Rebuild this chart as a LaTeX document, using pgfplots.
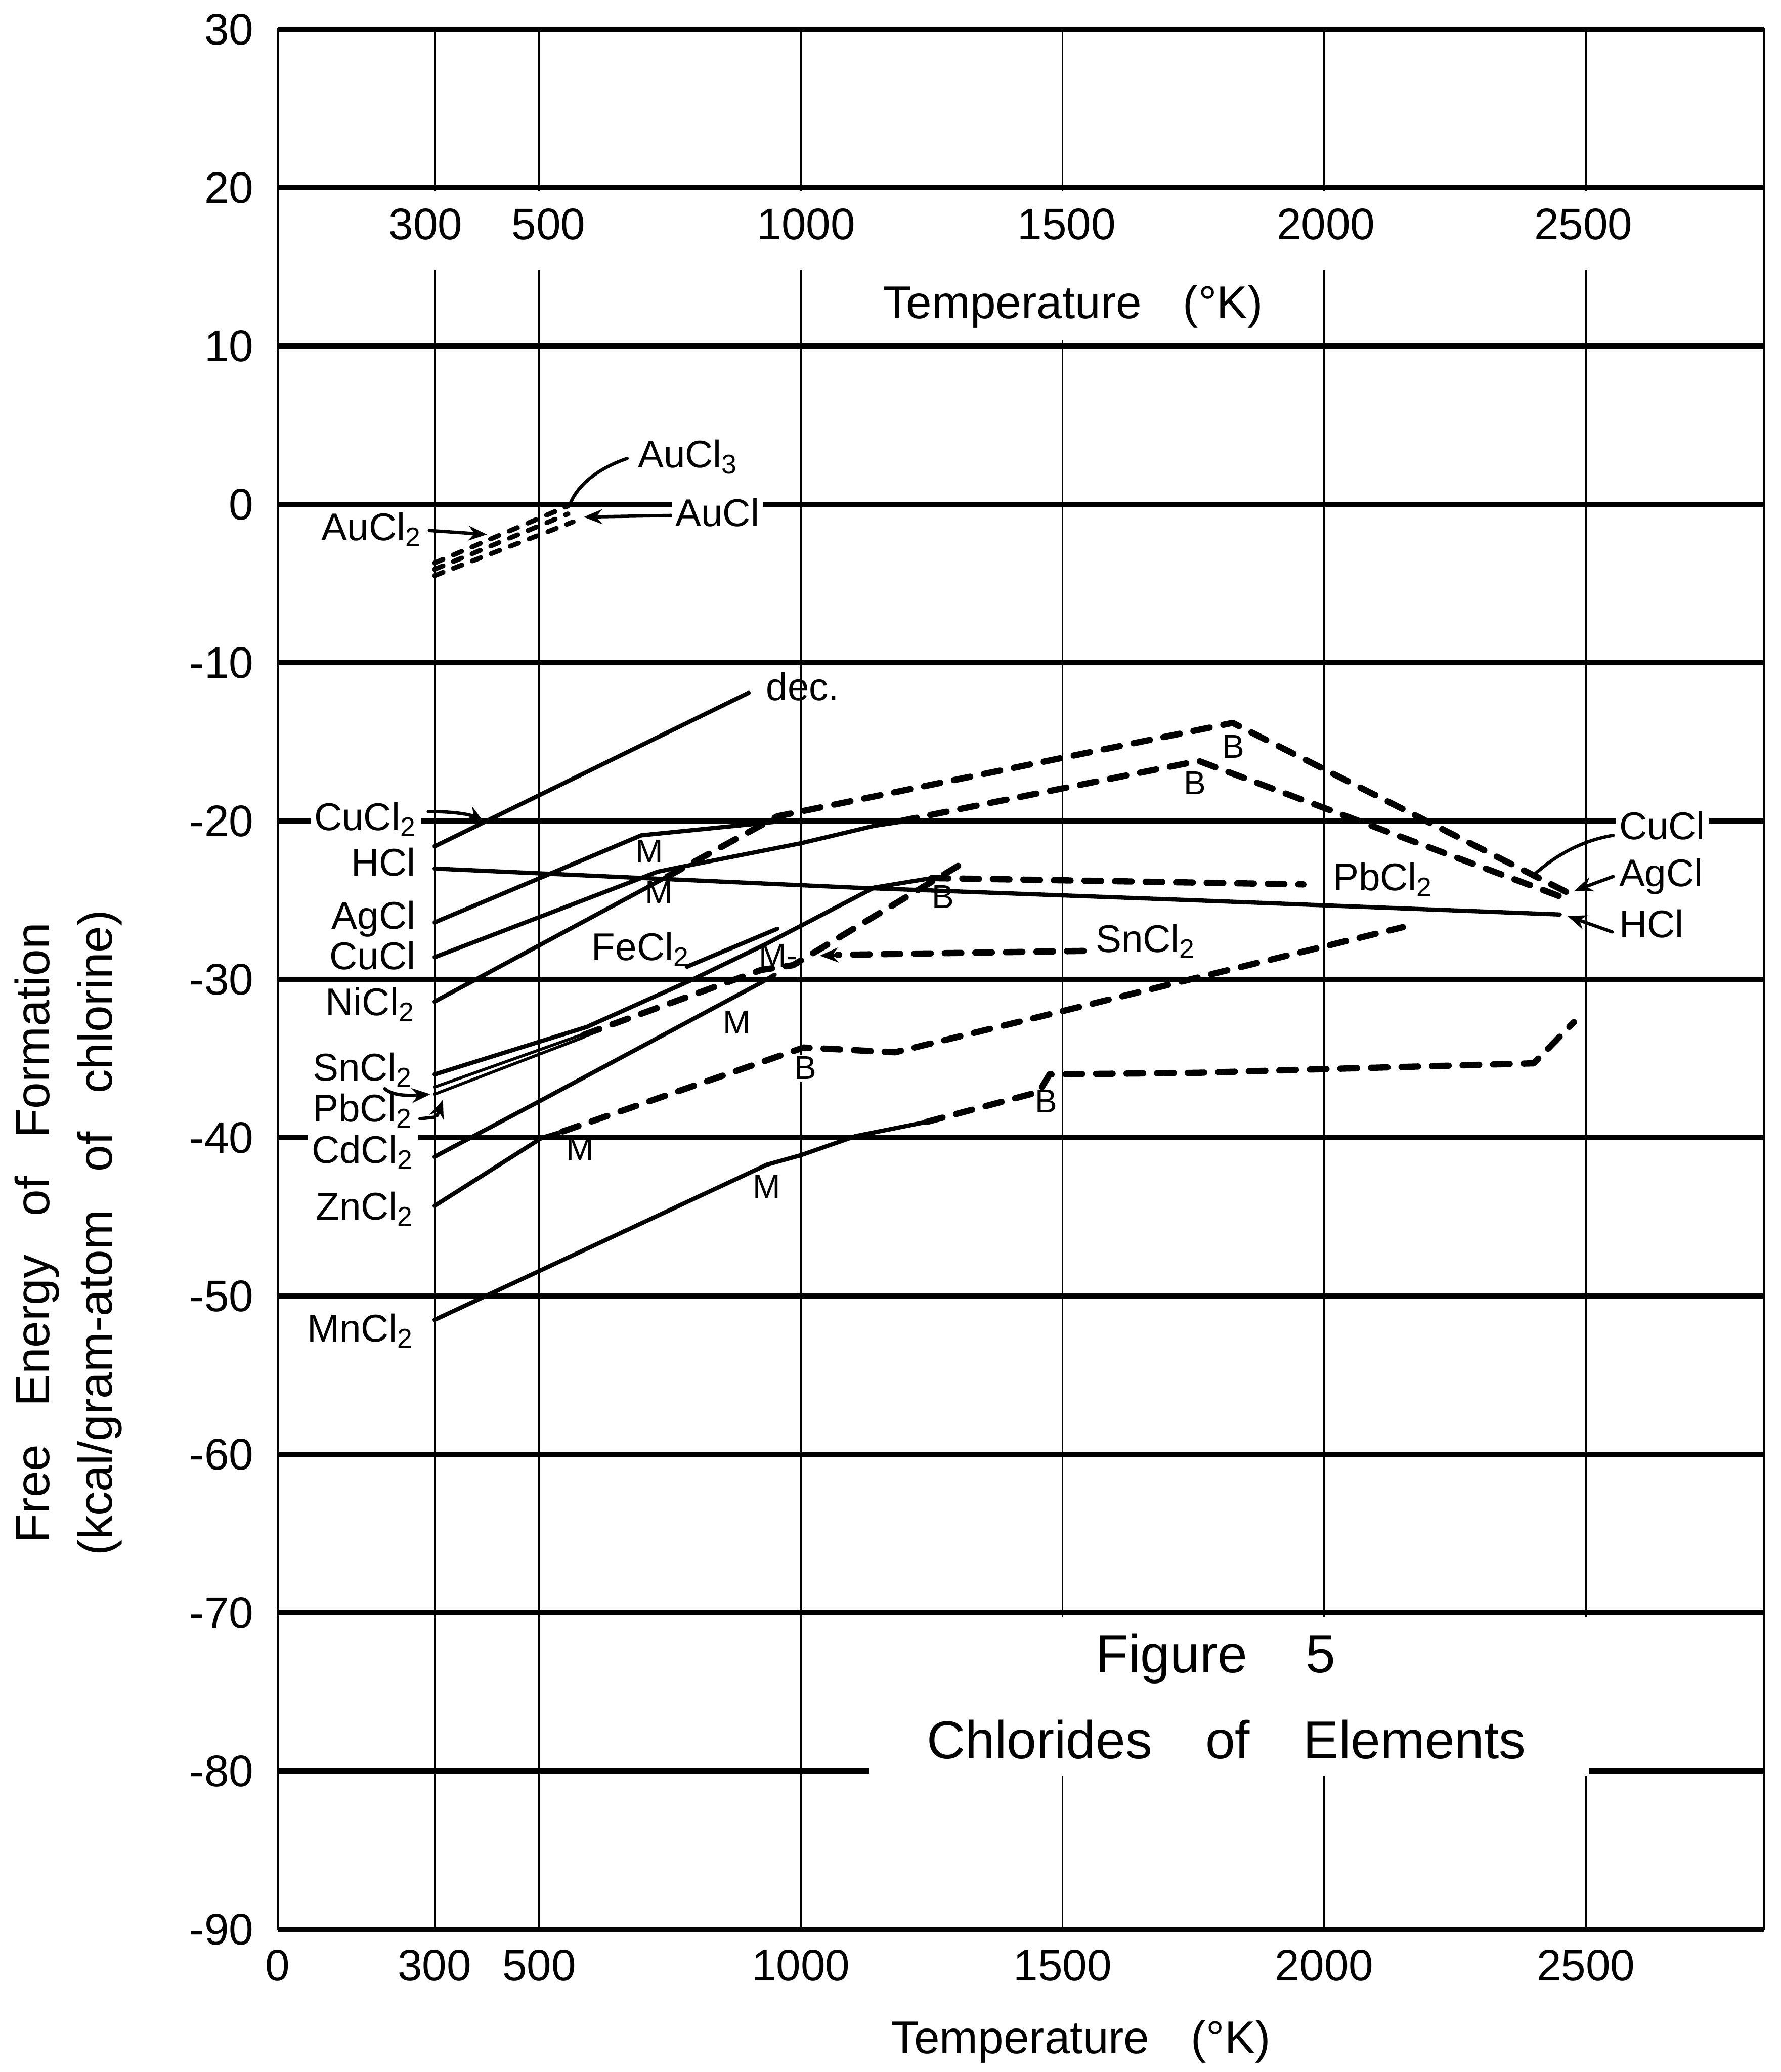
\documentclass[border=0pt]{standalone}
\usepackage{fontspec}
\setmainfont{Liberation Sans}
\setsansfont{Liberation Sans}
\usepackage{pgfplots}
\pgfplotsset{compat=1.18}
\usetikzlibrary{arrows.meta}
\newcommand{\s}[1]{\textsubscript{#1}}
\begin{document}
\begin{tikzpicture}[
  lab/.style={font=\fontsize{10.5}{12}\selectfont, inner sep=1pt},
  wlab/.style={lab, fill=white},
  ml/.style={font=\fontsize{9}{10}\selectfont, inner sep=0.5pt},
  ld/.style={line width=0.9pt, line cap=round},
  tip/.style={-{Stealth[length=5pt,width=4pt]}},
]
\begin{axis}[
  scale only axis, width=14.19cm, height=18.14cm,
  xmin=0, xmax=2840, ymin=-90, ymax=30,
  xtick={0,300,500,1000,1500,2000,2500},
  xticklabels={0,300,500,1000,1500,2000,2500},
  ytick={-90,-80,-70,-60,-50,-40,-30,-20,-10,0,10,20,30},
  yticklabels={-90,-80,-70,-60,-50,-40,-30,-20,-10,0,10,20,30},
  major tick length=0pt,
  xmajorgrids, ymajorgrids,
  major x grid style={line width=0.45pt, black},
  major y grid style={line width=1.4pt, black},
  axis line style={line width=0.5pt},
  tick label style={font=\fontsize{12}{14}\selectfont},
  xticklabel style={yshift=-2pt},
  yticklabel style={xshift=-3pt},
  clip=false,
  no markers,
  every axis plot/.append style={line join=round, line cap=round},
  sl/.style={line width=1.15pt, black},
  dl/.style={line width=1.7pt, black, dash pattern=on 4.5pt off 3.8pt},
  gl/.style={line width=1.3pt, black, dash pattern=on 2.5pt off 3pt},
]
\coordinate (SW) at (rel axis cs:0,0);
\coordinate (NE) at (rel axis cs:1,1);

% ---- solid lines
\addplot[sl] coordinates {(300,-21.6) (900,-11.9)};                       % CuCl2
\addplot[sl] coordinates {(300,-23.0) (1100,-24.2) (1750,-25.0) (2450,-25.9)}; % HCl
\addplot[sl] coordinates {(300,-26.4) (695,-20.9) (950,-20.05)};          % AgCl
\addplot[sl] coordinates {(300,-28.6) (726,-23.2) (770,-22.9) (1000,-21.4) (1140,-20.3) (1190,-20.05)}; % CuCl
\addplot[sl] coordinates {(300,-31.4) (745,-23.5)};                       % NiCl2
\addplot[sl] coordinates {(300,-36.0) (591,-33.0) (787,-30.1) (931,-27.8) (1140,-24.2) (1250,-23.6)};
\addplot[line width=0.8pt] coordinates {(300,-36.8) (585,-33.45)};
\addplot[line width=0.8pt] coordinates {(300,-37.25) (585,-33.65)};
\addplot[sl] coordinates {(782,-29.2) (955,-26.8)};                       % FeCl2
\addplot[sl] coordinates {(300,-41.2) (500,-37.7) (924,-30.2) (950,-29.7)}; % CdCl2
\addplot[sl] coordinates {(300,-44.3) (505,-40.0) (545,-39.6)};           % ZnCl2
\addplot[sl] coordinates {(300,-51.5) (935,-41.7) (1000,-41.1) (1104,-39.9) (1240,-39.0)}; % MnCl2

% ---- dashed lines
\addplot[gl] coordinates {(300,-3.7) (555,-0.1)};
\addplot[gl] coordinates {(300,-4.1) (555,-0.6)};
\addplot[gl] coordinates {(300,-4.5) (565,-1.1)};
\addplot[dl] coordinates {(745,-23.5) (955,-19.7) (1825,-13.8) (2470,-24.6)};
\addplot[dl] coordinates {(1190,-20.0) (1760,-16.2) (2470,-25.0)};
\addplot[dl] coordinates {(1250,-23.6) (1960,-24.0)};
\addplot[dl] coordinates {(585,-33.5) (924,-29.4) (985,-29.1) (1312,-22.6)};
\addplot[dl] coordinates {(545,-39.6) (1005,-34.3) (1180,-34.6) (1500,-32.0) (1756,-29.9) (2150,-26.7)};
\addplot[dl] coordinates {(1240,-39.0) (1455,-37.1) (1475,-36.0) (1756,-35.9) (1962,-35.7) (2400,-35.3) (2477,-32.7)};

% ---- blank areas of the grid
\fill[white] (axis cs:8,19.8) rectangle (axis cs:2832,14.8);
\fill[white] (axis cs:1470,14.9) rectangle (axis cs:1530,10.4);
\fill[white] (axis cs:1130,-70.25) rectangle (axis cs:2505,-80.3);

% ---- top scale
\foreach \xx/\tt in {283/300,518/500,1010/1000,1508/1500,2003/2000,2495/2500}{
  \edef\temp{\noexpand\node[font=\noexpand\fontsize{12}{14}\noexpand\selectfont] at (axis cs:\xx,17.7) {\tt};}
  \temp
}
\node[fill=white, inner sep=1pt, font=\fontsize{12.5}{14}\selectfont] at (axis cs:1520,12.5) {Temperature\hspace{0.9em}(°K)};

% ---- leaders
\draw[ld] (axis cs:668,2.9) .. controls (axis cs:615,2.3) and (axis cs:575,1.3) .. (axis cs:560,0.1);
\draw[ld,tip] (axis cs:752,-0.7) -- (axis cs:585,-0.8);
\draw[ld,tip] (axis cs:290,-1.65) -- (axis cs:400,-1.9);
\draw[ld,tip] (axis cs:288,-19.4) .. controls (axis cs:340,-19.4) and (axis cs:370,-19.6) .. (axis cs:395,-20.1);
\draw[ld,tip] (axis cs:205,-36.9) .. controls (axis cs:220,-37.35) and (axis cs:250,-37.35) .. (axis cs:292,-37.25);
\draw[ld] (axis cs:272,-38.8) -- (axis cs:300,-38.7);
\draw[ld,tip] (axis cs:305,-38.6) -- (axis cs:316,-37.6);
\draw[ld] (axis cs:2552,-20.9) .. controls (axis cs:2480,-21.3) and (axis cs:2430,-22.5) .. (axis cs:2397,-23.5);
\draw[ld,tip] (axis cs:2552,-23.5) -- (axis cs:2478,-24.4);
\draw[ld,tip] (axis cs:2550,-27.0) -- (axis cs:2465,-26.0);
\draw[line width=1.7pt, dash pattern=on 4.5pt off 3.8pt, line cap=round] (axis cs:1540,-28.2) -- (axis cs:1070,-28.45);
\draw[ld,tip] (axis cs:1075,-28.45) -- (axis cs:1036,-28.5);

% ---- labels
\node[lab,anchor=west] at (axis cs:680,3.0) {AuCl\s3};
\node[wlab,anchor=west] at (axis cs:752,-0.5) {AuCl};
\node[lab,anchor=east] at (axis cs:285,-1.6) {AuCl\s2};
\node[lab,anchor=west] at (axis cs:925,-11.5) {dec.};
\node[wlab,anchor=east] at (axis cs:275,-19.9) {CuCl\s2};
\node[lab,anchor=east] at (axis cs:272,-22.6) {HCl};
\node[lab,anchor=east] at (axis cs:272,-26.2) {AgCl};
\node[lab,anchor=east] at (axis cs:272,-28.5) {CuCl};
\node[lab,anchor=east] at (axis cs:272,-31.6) {NiCl\s2};
\node[lab,anchor=west] at (axis cs:592,-28.1) {FeCl\s2};
\node[lab,anchor=east] at (axis cs:268,-35.7) {SnCl\s2};
\node[lab,anchor=east] at (axis cs:268,-38.3) {PbCl\s2};
\node[wlab,anchor=east] at (axis cs:270,-40.9) {CdCl\s2};
\node[lab,anchor=east] at (axis cs:270,-44.5) {ZnCl\s2};
\node[lab,anchor=east] at (axis cs:270,-52.2) {MnCl\s2};
\node[wlab,anchor=west] at (axis cs:2555,-20.3) {CuCl};
\node[lab,anchor=west] at (axis cs:2555,-23.5) {AgCl};
\node[lab,anchor=west] at (axis cs:2555,-26.5) {HCl};
\node[lab,anchor=west] at (axis cs:2008,-23.7) {PbCl\s2};
\node[lab,anchor=west] at (axis cs:1555,-27.6) {SnCl\s2};

\node[ml] at (axis cs:710,-21.9) {M};
\node[ml] at (axis cs:729,-24.5) {M};
\node[ml,anchor=west] at (axis cs:915,-28.5) {M-};
\node[ml] at (axis cs:878,-32.7) {M};
\node[ml] at (axis cs:578,-40.7) {M};
\node[ml] at (axis cs:935,-43.1) {M};
\node[ml] at (axis cs:1826,-15.3) {B};
\node[ml] at (axis cs:1753,-17.6) {B};
\node[ml] at (axis cs:1272,-24.8) {B};
\node[ml,fill=white] at (axis cs:1009,-35.6) {B};
\node[ml] at (axis cs:1469,-37.7) {B};

% ---- titles
\node[font=\fontsize{14.5}{16}\selectfont] at (axis cs:1793,-72.9) {Figure\hspace{1.1em}5};
\node[font=\fontsize{14.5}{16}\selectfont] at (axis cs:1813,-78.0) {Chlorides\hspace{1em}of\hspace{1em}Elements};
\node[font=\fontsize{12.5}{14}\selectfont] at ([yshift=-1.07cm]axis cs:1535,-90) {Temperature\hspace{0.9em}(°K)};
\node[rotate=90, font=\fontsize{13}{15}\selectfont] at ([xshift=-2.295cm]axis cs:0,-46) {Free\hspace{0.8em}Energy\hspace{0.8em}of\hspace{0.8em}Formation};
\node[rotate=90, font=\fontsize{13}{15}\selectfont] at ([xshift=-1.70cm]axis cs:0,-46) {(kcal/gram-atom\hspace{0.8em}of\hspace{0.8em}chlorine)};
\end{axis}
\pgfresetboundingbox
\path ([shift={(-2.65cm,-1.36cm)}]SW) rectangle ([shift={(0.16cm,0.28cm)}]NE);
\end{tikzpicture}
\end{document}
